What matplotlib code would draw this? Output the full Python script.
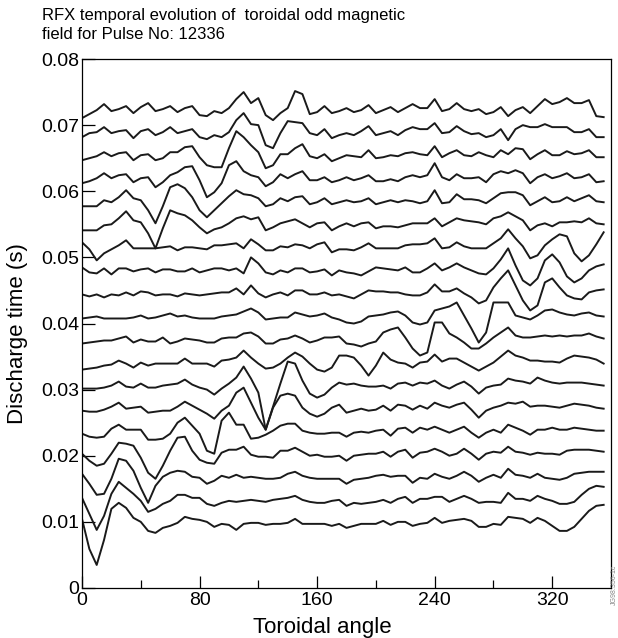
import numpy as np
import matplotlib.pyplot as plt

plt.rcParams['font.family'] = ['Liberation Sans', 'DejaVu Sans']

# toroidal position of the 72 saddle coils (deg)
angle = np.arange(0, 360, 5)

# time of each trace (ms), top to bottom
t_ms = [72.27, 69.09, 65.45, 61.97, 58.64, 55.15, 51.52, 48.03, 44.55, 41.06,
        37.58, 34.09, 30.61, 27.27, 23.79, 20.61, 16.82, 13.33, 9.85]

# odd toroidal field (a.u.) for each trace, one value per coil
b00 = [-8, -4, 0, 6, -1, 1, 4, -3, 3, 7, -1, 1, 4, -2, 2, 4, -5, -6, -1, -3,
       2, 11, 18, 7, 12, -5, -10, -3, 2, 19, 16, -4, -2, 4, -3, -1, 2, -2, 0, 5,
       -3, 0, 3, -2, 2, 6, 2, 2, 11, -1, 1, 7, 1, -1, 1, -4, -2, 3, -6, 0,
       3, -3, 4, 11, 6, 8, 12, 7, 7, 10, -6, -7]
b01 = [-6, -2, -1, 4, -2, 0, 1, -7, 0, 2, -4, -1, 4, -2, 0, 2, -6, -8, -4, -6,
       -1, 11, 18, 7, 6, -14, -17, -2, 10, 9, 8, -2, -4, 2, -7, -4, -2, -4, 0, 5,
       -4, -2, 0, -4, 1, 4, 2, 2, 8, -2, -1, 5, 0, -3, -2, -6, -4, 2, -9, 2,
       6, 4, 4, 7, 4, 4, 4, -1, -1, 2, -6, -6]
b02 = [-5, -3, -1, 3, -1, 2, 3, -5, 0, 1, -5, -3, 3, 3, 8, 9, -2, -10, -12, -12,
       7, 24, 18, 10, 3, -13, -10, 1, 1, 7, 11, -1, -3, 1, -6, -3, 0, -1, -2, 5,
       -3, -2, 0, -1, 2, 3, 1, 0, 9, -2, 2, 5, 0, -1, 3, 0, -2, 5, 1, 7,
       6, -4, 1, 5, 0, 0, 4, 1, 2, 5, -2, -2]
b03 = [-5, -3, 0, 5, 0, 3, 4, -4, 0, 1, -9, -4, 3, 6, 11, 12, -2, -19, -14, -5,
       13, 17, 7, 3, 1, -8, -4, 4, 0, 4, 7, -2, -2, 1, -4, -2, 1, -2, 0, 3,
       -3, -3, -1, -3, 1, 3, 1, 3, 15, 1, -2, 4, 0, 0, 1, -4, 4, 7, 5, 8,
       5, -5, 1, 4, 0, 2, 5, 0, 1, 4, -4, -3]
b04 = [-6, -6, -6, 0, -2, 3, 10, 2, 0, -10, -23, -6, 13, 16, 12, 3, -10, -17, -10, -3,
       4, 10, 6, 5, 2, -6, -4, 2, -1, 3, 4, -4, -2, 2, -4, -2, 0, -2, -1, 2,
       -4, -2, 0, -2, 0, -1, -3, -1, 10, -3, -2, 6, 1, 1, 0, -3, 2, 7, 8, 8,
       5, -5, -1, 3, -2, -1, 3, -1, 2, 5, -1, -2]
b05 = [-7, -7, -7, -2, -1, 5, 12, 3, 1, -10, -25, -5, 13, 10, 8, 3, -4, -10, -6, -4,
       0, 5, 7, 4, 6, -7, -4, 0, 2, 4, 0, -4, 0, 1, -7, -3, 0, -3, 0, 1,
       -5, -3, -3, -4, -2, 0, 0, 0, 5, -3, 1, 5, 3, 2, 1, -1, 5, 7, 11, 7,
       3, -7, -2, 0, -3, 1, 1, 2, 1, 5, 0, -1]
b06 = [5, -2, -13, -6, -2, 2, 7, -1, -1, -1, -1, 0, 1, -3, 0, 0, -1, -2, 2, 2,
       3, 4, -1, 8, 3, -3, -3, 1, 0, 3, 2, -1, 3, 5, -5, -2, -2, -3, 0, 4,
       -1, -1, -1, -1, 2, 3, 3, 4, 9, -1, 0, 5, 1, -1, -1, -1, 4, 9, 18, 9,
       1, -11, -8, 2, 8, 13, 11, -6, -14, -8, 3, 15]
b07 = [3, -2, -3, 2, -4, 2, 2, -1, 1, 2, -2, 1, 1, -1, -1, 2, -2, 0, 2, 2,
       0, 2, -3, 13, 7, -2, -4, 0, -2, 2, 2, -2, -1, 1, -5, 0, -2, -3, -5, -1,
       3, 2, 1, 0, 3, -2, -2, 2, 7, 0, 3, 7, 3, 0, -3, -4, 2, 11, 22, 5,
       -10, -15, -8, 10, 16, 8, -6, -12, -8, 0, 4, 6]
b08 = [-1, -3, -1, -4, -1, -2, 1, -2, 2, 1, -2, -1, -1, -3, 0, -1, -2, -1, 0, 1,
       1, 5, -1, 8, 0, -4, -1, 1, -2, 3, 3, -1, -1, 1, -2, -1, -3, -5, -1, 3,
       2, 2, 1, 1, -1, -2, -2, 1, 9, 2, 2, 5, 0, -4, -10, -7, 6, 15, 23, 8,
       -7, -17, -12, 11, 15, 6, -2, -5, -6, 1, 3, 4]
b09 = [-2, -1, 0, -2, -2, -2, -2, -1, 1, -2, -1, 1, 3, 0, 1, -1, -2, -2, -2, 0,
       1, 2, 5, 8, 4, -3, -2, -1, -1, 4, 2, 0, 1, 3, -1, -3, -6, -7, -5, 0,
       1, 2, 4, 5, 1, -6, -8, -6, 6, 8, 10, 14, 1, -12, -26, -16, 14, 14, 14, 1,
       -1, -3, 1, 6, 7, 4, 2, 1, 3, 4, 1, 0]
b10 = [-4, -3, -2, -1, -1, 1, 3, -3, 0, -2, -2, 2, -4, -2, 1, 0, -1, -3, -3, 1,
       2, 2, 6, 7, 3, -4, -4, 0, 1, 4, 1, -3, -1, 2, 2, 3, -4, -5, -7, -4,
       -2, 7, 10, 12, 2, -9, -16, -13, 17, 17, 6, 2, -3, -9, -9, -4, 2, 7, 12, 4,
       2, 2, 3, 4, 3, 4, 3, 4, 4, 6, 3, 1]
b11 = [-7, -6, -5, -3, -2, 2, -1, -5, 0, -3, -1, -1, -1, -1, 4, -1, -1, -1, -4, 2,
       3, 5, 12, 5, -1, -6, -5, -1, 5, 10, 6, -1, -7, -9, -5, 7, 7, 5, -3, -13,
       -3, 10, 3, 0, -1, -5, 0, 1, 8, 1, 4, 4, 0, -4, -8, -4, 0, 6, 12, 7,
       5, 2, 2, 1, 1, 0, 4, 7, 6, 5, 3, -1]
b12 = [-3, -3, -3, -2, 0, 4, -1, -2, 2, -2, -2, 0, 1, 2, 6, 1, -2, -4, -9, -3,
       2, 8, 19, 7, -7, -44, -21, 2, 24, 22, 5, -8, -12, -9, -2, 3, 1, 2, 0, -1,
       -1, 0, -3, 2, 3, 0, 3, 2, 5, 0, -3, 1, 4, -1, -8, -2, 0, 1, 7, 5,
       4, 2, 8, 5, 3, 2, 3, 3, 3, 2, 1, 0]
b13 = [-3, -4, -4, -2, 1, 5, -1, 0, 1, -5, -4, -3, -3, 1, 6, 2, -2, -6, -11, -3,
       2, 15, 20, 5, -10, -22, 0, 12, 14, 12, 0, -6, -9, -6, 0, 3, -5, -3, -1, -3,
       -2, 2, -3, 3, 2, -2, 2, -1, 5, 2, 0, 3, 5, -2, -10, -3, 0, 2, 5, 4,
       6, 1, 2, 2, 1, 0, 2, 4, 3, 2, 0, -1]
b14 = [-3, -6, -7, -6, 2, 6, 1, 1, 1, -9, -9, -8, -3, 8, 13, 5, -3, -20, -23, 10,
       18, 6, 6, -8, -7, -4, 0, 5, 7, 7, 0, -2, -3, -3, -2, -2, -6, -2, -1, -2,
       0, 1, -5, 2, 3, -2, 3, 1, 4, 1, -2, 1, 4, -2, -7, -2, 1, -2, 6, 3,
       0, -4, 1, 1, 3, 1, 1, 3, 2, 1, 0, 0]
b15 = [-2, -9, -14, -12, -2, 9, 8, 6, -6, -21, -27, -14, 1, 14, 15, 1, -8, -11, -12, -1,
       2, 2, 5, -3, -5, -5, -6, 1, 1, 4, 0, -4, -3, -5, -5, -4, -9, -4, -3, -2,
       -2, 0, -5, 0, 2, -6, -1, 0, 3, 0, -4, -2, 3, -2, -8, -2, 0, -1, 5, 0,
       -1, -3, -1, -2, -2, -3, 1, 2, 2, 2, 1, 0]
b16 = [3, -7, -18, -17, -2, 18, 16, 6, -11, -26, -9, 0, 4, 6, 5, 0, -1, -7, -4, 1,
       -1, 2, -1, 0, -1, -2, -2, -1, 3, 5, 1, -1, -2, -2, -2, -2, -7, -3, -2, -1,
       1, 2, 0, 1, 1, -6, -1, -2, 3, 0, -2, 1, 5, 1, -5, -1, 2, -1, 8, 2,
       1, -1, 3, -1, -2, -3, -1, 3, 4, 5, 5, 5]
b17 = [2, -14, -30, -16, 6, 18, 12, 6, -1, -12, -9, -4, -1, 5, 5, 2, 2, -4, -6, -3,
       -1, -2, -1, 0, -1, -2, 0, 1, 2, 4, 0, -2, -3, -3, -1, 0, -6, -3, -4, -3,
       -2, 0, -3, 1, 3, -3, 1, 1, 3, 3, -2, 1, 4, 1, -3, -2, -2, -3, 7, 1,
       1, -1, 4, 1, -1, -4, -4, -2, 5, 11, 14, 13]
b18 = [4, -26, -42, -17, 14, 20, 15, 5, 1, -8, -10, -5, -3, 0, 6, 4, 3, 1, -4, -1,
       -2, -7, -1, 0, 0, -2, -1, -1, 0, 4, -1, -1, -1, -1, -3, -1, -5, -3, -1, -1,
       -1, 2, -2, 1, 1, -3, -1, 0, 5, 0, 2, 3, 4, 2, -4, -4, -1, -2, 6, 5,
       4, 0, 5, 2, -3, -8, -8, -4, 4, 12, 17, 18]

traces = [b00, b01, b02, b03, b04, b05, b06, b07, b08, b09,
          b10, b11, b12, b13, b14, b15, b16, b17, b18]

scale = 1 / 6.6  # ms of offset per unit of field

fig = plt.figure(figsize=(6.18, 6.38), dpi=100)
ax = fig.add_axes([82 / 618, 1 - 588 / 638, 529 / 618, 529 / 638])

for t, b in zip(t_ms, traces):
    y = (t + np.array(b) * scale) / 1000
    ax.plot(angle, y, color='#1a1a1a', lw=1.4)

ax.set_xlim(0, 360)
ax.set_ylim(0, 0.08)
ax.set_xticks([0, 80, 160, 240, 320])
ax.set_xticks([40, 120, 200, 280], minor=True)
yt = np.arange(0, 0.081, 0.01)
ax.set_yticks(yt)
ax.set_yticklabels(['0'] + ['%.2f' % v for v in yt[1:]])
ax.tick_params(direction='in', length=9, width=0.9, labelsize=14, pad=3)
ax.tick_params(axis='y', pad=2)
ax.tick_params(which='minor', direction='in', length=6, width=0.9)
for s in ax.spines.values():
    s.set_linewidth(0.9)

ax.set_xlabel('Toroidal angle', fontsize=16, labelpad=0)
ax.xaxis.set_label_coords((322 - 82) / 529, -0.055)
ax.set_ylabel('Discharge time (s)', fontsize=16, labelpad=2)
ax.yaxis.set_label_coords((28 - 82) / 529, (588 - 334) / 529)

fig.text(42 / 618, 1 - 8 / 638,
         'RFX temporal evolution of  toroidal odd magnetic\nfield for Pulse No: 12336',
         ha='left', va='top', fontsize=12, linespacing=1.3)
fig.text(614 / 618, 1 - 585 / 638, 'JG98.356-1c', rotation=90, fontsize=5,
         color='#888888', ha='center', va='center')

fig.savefig('out.png', dpi=100)
